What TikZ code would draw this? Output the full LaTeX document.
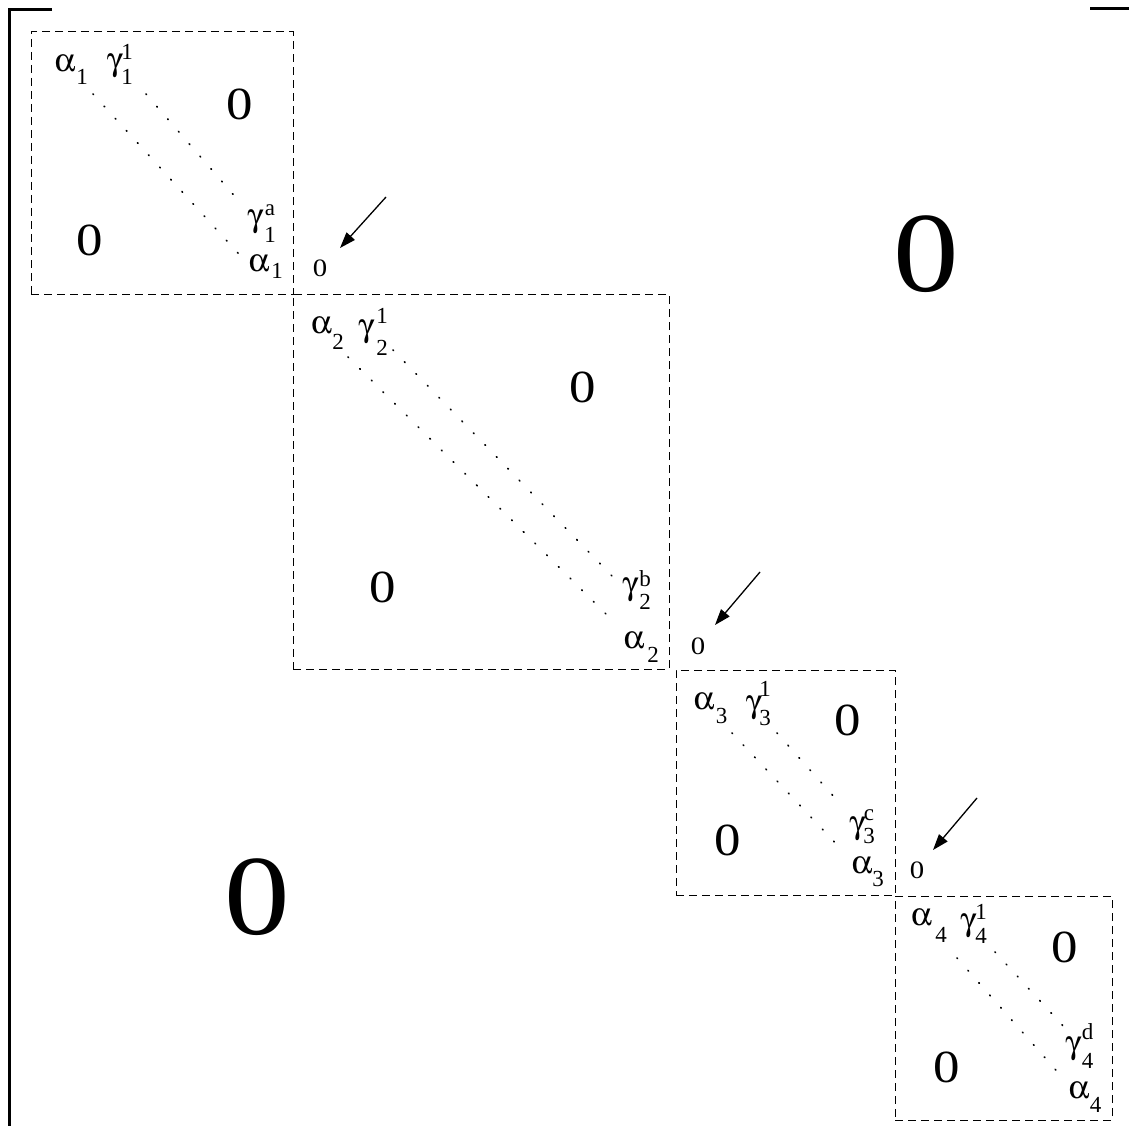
\documentclass[tikz,border=0pt]{standalone}
\usepackage{fontspec}
\setmainfont{Liberation Serif}
\newfontfamily\widefont[FakeStretch=1.15]{Liberation Serif}
\usepackage[Symbol]{upgreek}
\usetikzlibrary{arrows.meta}
\newcommand\myal{$\upalpha$}
\newcommand\mygm{$\upgamma$}
\begin{document}
\begin{tikzpicture}[x=1pt,y=-1pt,
  gk/.style={inner sep=0pt,font=\fontsize{33}{33}\selectfont},
  sc/.style={inner sep=0pt,font=\fontsize{23}{23}\selectfont},
  zbig/.style={inner sep=0pt,font=\widefont\fontsize{114}{114}\selectfont},
  zmed/.style={inner sep=0pt,font=\widefont\fontsize{46}{46}\selectfont},
  zsm/.style={inner sep=0pt,font=\widefont\fontsize{25}{25}\selectfont},
  blk/.style={draw,dash pattern=on 8pt off 5pt,line width=1pt,inner sep=0pt},
  dots/.style={line width=1.7pt,line cap=round,dash pattern=on 0.8pt off 15.7pt},
  arr/.style={line width=1.3pt,-{Triangle[length=16pt,width=11pt]}},
  brk/.style={line width=3pt}]
\useasboundingbox (0,0) rectangle (1129,1126);
% matrix brackets
\draw[brk] (52,10) -- (9,10) -- (9,1130);
\draw[brk] (1090,9) -- (1131,9);
% blocks
\node[blk,minimum width=262pt,minimum height=262pt] (B1) at (162,163) {};
\node[blk,minimum width=376pt,minimum height=375pt] (B2) at (481,481.5) {};
\node[blk,minimum width=219pt,minimum height=225pt] (B3) at (785.5,782.5) {};
\node[blk,minimum width=217pt,minimum height=224pt] (B4) at (1003.5,1008) {};
% big zeros
\node[zbig] (Zur) at (926,254) {0};
\node[zbig] (Zll) at (257,897) {0};
% block 1
\node[zmed] (z1u) at (240,104) {0};
\node[zmed] (z1l) at (89.5,240.5) {0};
\node[gk] (a1t) at (65,63.5) {\myal};
\node[sc] (a1ts) at (82,76.5) {1};
\node[gk] (g1t) at (115,66) {\mygm};
\node[sc] (g1tp) at (127,51.5) {1};
\node[sc] (g1ts) at (127,76.5) {1};
\node[gk] (g1b) at (255.5,221.5) {\mygm};
\node[sc] (g1bp) at (270,210.5) {a};
\node[sc] (g1bs) at (270,235) {1};
\node[gk] (a1b) at (259,263.5) {\myal};
\node[sc] (a1bs) at (277,271) {1};
\coordinate (d1a) at (93,94); \coordinate (d1b) at (247,263);
\coordinate (e1a) at (146,94); \coordinate (e1b) at (238,200);
\draw[dots] (d1a) -- (d1b);
\draw[dots] (e1a) -- (e1b);
% block 2
\node[zmed] (z2u) at (583,387) {0};
\node[zmed] (z2l) at (383,587) {0};
\node[gk] (a2t) at (321.5,325.5) {\myal};
\node[sc] (a2ts) at (338,342) {2};
\node[gk] (g2t) at (366.5,332) {\mygm};
\node[sc] (g2tp) at (382,315.5) {1};
\node[sc] (g2ts) at (382,348) {2};
\node[gk] (g2b) at (630.5,590) {\mygm};
\node[sc] (g2bp) at (645,578.5) {b};
\node[sc] (g2bs) at (645,602) {2};
\node[gk] (a2b) at (634,640.5) {\myal};
\node[sc] (a2bs) at (653,655) {2};
\coordinate (d2a) at (348,357); \coordinate (d2b) at (610,618);
\coordinate (e2a) at (393,350); \coordinate (e2b) at (613,577);
\draw[dots] (d2a) -- (d2b);
\draw[dots] (e2a) -- (e2b);
% block 3
\node[zmed] (z3u) at (848,720) {0};
\node[zmed] (z3l) at (728,840) {0};
\node[gk] (a3t) at (704,701.5) {\myal};
\node[sc] (a3ts) at (721.5,716) {3};
\node[gk] (g3t) at (754,708) {\mygm};
\node[sc] (g3tp) at (765,689) {1};
\node[sc] (g3ts) at (765,718) {3};
\node[gk] (g3b) at (857.5,828.5) {\mygm};
\node[sc] (g3bp) at (869,815.5) {c};
\node[sc] (g3bs) at (869,836) {3};
\node[gk] (a3b) at (862,865) {\myal};
\node[sc] (a3bs) at (878,879) {3};
\coordinate (d3a) at (732,733); \coordinate (d3b) at (840,848);
\coordinate (e3a) at (777,733); \coordinate (e3b) at (835,798);
\draw[dots] (d3a) -- (d3b);
\draw[dots] (e3a) -- (e3b);
% block 4
\node[zmed] (z4u) at (1065,947) {0};
\node[zmed] (z4l) at (947,1067) {0};
\node[gk] (a4t) at (921.5,917.5) {\myal};
\node[sc] (a4ts) at (941,935) {4};
\node[gk] (g4t) at (968.5,926) {\mygm};
\node[sc] (g4tp) at (981,912) {1};
\node[sc] (g4ts) at (981,936) {4};
\node[gk] (g4b) at (1073.5,1049) {\mygm};
\node[sc] (g4bp) at (1087.5,1032) {d};
\node[sc] (g4bs) at (1087.5,1061) {4};
\node[gk] (a4b) at (1079,1090.5) {\myal};
\node[sc] (a4bs) at (1095.5,1105) {4};
\coordinate (d4a) at (957,958); \coordinate (d4b) at (1062,1077);
\coordinate (e4a) at (995,952); \coordinate (e4b) at (1065,1028);
\draw[dots] (d4a) -- (d4b);
\draw[dots] (e4a) -- (e4b);
% small zeros and arrows
\node[zsm] (s1) at (320,268) {0};
\node[zsm] (s2) at (698,646) {0};
\node[zsm] (s3) at (917,870) {0};
\coordinate (t1) at (386,197); \coordinate (h1) at (340,248);
\coordinate (t2) at (760,572); \coordinate (h2) at (715,625);
\coordinate (t3) at (977,798); \coordinate (h3) at (933,850);
\draw[arr] (t1) -- (h1);
\draw[arr] (t2) -- (h2);
\draw[arr] (t3) -- (h3);
\end{tikzpicture}
\end{document}
